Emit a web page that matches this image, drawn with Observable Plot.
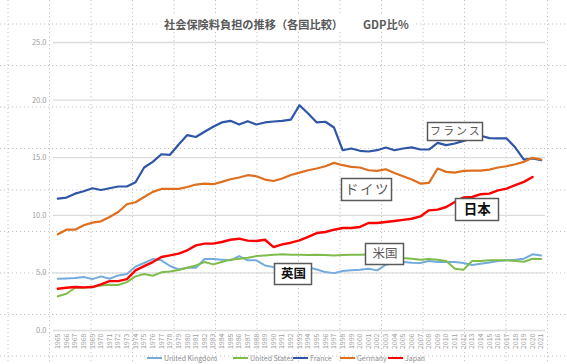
<!DOCTYPE html>
<html><head><meta charset="utf-8">
<script src="https://cdn.jsdelivr.net/npm/d3@7"></script>
<script src="https://cdn.jsdelivr.net/npm/@observablehq/plot@0.6"></script>
<style>
body{margin:0;width:567px;height:364px;overflow:hidden;background:#fff;font-family:"Noto Sans CJK JP",sans-serif;position:relative}
#bg{position:absolute;left:0;top:0}
#title{position:absolute;top:16px;left:160px;padding:0 4px;background:#fff;font-size:11.2px;font-weight:700;color:#595959;white-space:nowrap;line-height:16px}
#title .gdp{margin-left:20px}
#chart{position:absolute;left:0;top:34px}
#legend{position:absolute;top:352px;left:0;width:567px;height:12px}
.li{position:absolute;top:0;display:flex;align-items:center;height:12px;font-size:7px;color:#8c8c8c;white-space:nowrap}
.sw{display:inline-block;width:15px;height:2px;margin-right:2px}
</style>
</head><body>
<svg id="bg" width="567" height="364"></svg>
<div id="title">社会保険料負担の推移（各国比較）<span class="gdp">GDP比％</span></div>
<div id="chart"></div>
<div id="legend"></div>
<script>
// ---- data ----
const years = d3.range(1965, 2022);
const yTicks = [0, 5, 10, 15, 20, 25];
const seriesNames = ["United Kingdom", "United States", "France", "Germany", "Japan"];
const uk = [4.49,4.52,4.55,4.64,4.46,4.70,4.49,4.78,4.90,5.55,5.86,6.20,6.09,5.60,5.30,5.45,5.45,6.20,6.20,6.15,6.09,6.46,6.09,6.09,5.65,5.50,5.45,5.48,5.50,5.50,5.30,5.07,4.98,5.16,5.22,5.28,5.36,5.22,5.71,5.88,5.94,5.88,5.86,6.03,5.94,5.94,5.94,5.86,5.68,5.80,5.91,6.03,6.09,6.14,6.23,6.61,6.52];
const us = [2.98,3.19,3.71,3.71,3.77,3.91,3.98,3.95,4.20,4.70,4.90,4.75,5.05,5.13,5.25,5.45,5.65,5.94,5.74,5.94,6.15,6.23,6.32,6.46,6.52,6.58,6.61,6.58,6.58,6.56,6.58,6.56,6.52,6.55,6.57,6.58,6.60,6.60,6.55,6.38,6.29,6.23,6.14,6.20,6.14,6.03,5.36,5.28,6.03,6.03,6.09,6.09,6.09,6.03,5.97,6.23,6.20];
const france = [11.45,11.54,11.88,12.09,12.35,12.20,12.35,12.50,12.50,12.87,14.15,14.64,15.30,15.25,16.15,16.96,16.80,17.25,17.68,18.06,18.20,17.88,18.17,17.88,18.06,18.14,18.20,18.30,19.55,18.84,18.06,18.12,17.62,15.65,15.80,15.60,15.54,15.65,15.88,15.65,15.80,15.90,15.71,15.71,16.29,16.09,16.23,16.46,16.70,16.90,16.70,16.67,16.67,15.88,14.84,14.93,14.78];
const germany = [8.35,8.75,8.75,9.13,9.36,9.48,9.85,10.29,10.96,11.13,11.59,12.03,12.29,12.30,12.29,12.46,12.67,12.75,12.70,12.90,13.13,13.28,13.48,13.39,13.10,12.98,13.19,13.50,13.70,13.91,14.06,14.26,14.55,14.35,14.20,14.15,13.91,13.85,14.00,13.68,13.39,13.10,12.75,12.81,14.06,13.77,13.71,13.85,13.88,13.88,13.97,14.15,14.26,14.43,14.64,14.99,14.84];
const japan = [3.62,3.71,3.77,3.74,3.77,4.00,4.29,4.29,4.46,5.22,5.59,5.94,6.38,6.52,6.67,6.96,7.39,7.54,7.54,7.68,7.88,7.97,7.80,7.77,7.88,7.24,7.48,7.62,7.83,8.12,8.46,8.55,8.75,8.90,8.90,8.99,9.33,9.33,9.42,9.51,9.60,9.70,9.90,10.43,10.49,10.72,11.16,11.54,11.59,11.83,11.88,12.17,12.32,12.61,12.90,13.33,null];
const labelText = ["フランス", "ドイツ", "日本", "米国", "英国"];
const labelYear = [2011.0, 2000.8, 2013.6, 2002.9, 1992.3];
const labelValue = [17.27, 12.24, 10.5, 6.64, 4.9];

// ---- styles ----
const colors = {"United Kingdom":"#74aadc","United States":"#7fbc4c","France":"#2f56a6","Germany":"#dd6f1f","Japan":"#ff0000"};
const widths = {"United Kingdom":2,"United States":2,"France":2.2,"Germany":2.2,"Japan":2.4};
const labelStyle = {
  "フランス": {size: 11, weight: 400, color: "#595959", ls: 2, w: 55, h: 18},
  "ドイツ": {size: 13.5, weight: 400, color: "#595959", ls: 1.5, w: 50, h: 22},
  "日本": {size: 13.5, weight: 700, color: "#111", ls: 0, w: 43, h: 22},
  "米国": {size: 12.5, weight: 400, color: "#595959", ls: 0, w: 38, h: 21},
  "英国": {size: 12.5, weight: 700, color: "#111", ls: 0, w: 37, h: 21}
};

// background dotted sheet grid
const bg = d3.select("#bg");
const step = 41.5;
for (let x = 8; x < 567; x += step) bg.append("line").attr("x1", x).attr("x2", x).attr("y1", 0).attr("y2", 364);
for (let y = 24; y < 364; y += step) bg.append("line").attr("x1", 0).attr("x2", 567).attr("y1", y).attr("y2", y);
bg.selectAll("line").attr("stroke", "#c4c4c4").attr("stroke-width", 1).attr("stroke-dasharray", "1.2 2.8");

const allValues = {"United Kingdom": uk, "United States": us, "France": france, "Germany": germany, "Japan": japan};
const lineMarks = seriesNames.map(name => {
  const rows = years.map((yr, i) => ({year: yr, value: allValues[name][i]})).filter(d => d.value != null);
  return Plot.line(rows, {x: "year", y: "value", stroke: colors[name], strokeWidth: widths[name], strokeLinejoin: "round", strokeLinecap: "round"});
});
const labelMarks = labelText.map((t, i) => {
  const s = labelStyle[t];
  return Plot.text([{t, year: labelYear[i], value: labelValue[i]}], {x: "year", y: "value", text: "t", fontSize: s.size, fontWeight: s.weight, fill: s.color, fontFamily: "'Noto Sans CJK JP', sans-serif"});
});

const chart = Plot.plot({
  width: 567, height: 319,
  marginTop: 8, marginBottom: 23, marginLeft: 53, marginRight: 22,
  style: {background: "transparent", fontFamily: "'Noto Sans CJK JP', sans-serif", overflow: "visible"},
  x: {type: "linear", domain: [years[0] - 0.5, years[years.length - 1] + 0.5]},
  y: {domain: [0, 25]},
  marks: [
    Plot.gridY(yTicks, {stroke: "#dcdcdc", strokeOpacity: 1, strokeWidth: 1.3}),
    Plot.axisY(yTicks, {tickSize: 0, tickPadding: 7, tickFormat: d => d.toFixed(1), fontSize: 7.5, fill: "#9c9c9c", label: null}),
    Plot.axisX(years, {tickSize: 0, tickRotate: -90, tickPadding: 3, tickFormat: d => String(d), fontSize: 7, fill: "#9c9c9c", label: null}),
    ...lineMarks,
    ...labelMarks
  ]
});
document.getElementById("chart").appendChild(chart);

// boxes behind annotation labels, centred on each label's scaled position
const sx = chart.scale("x"), sy = chart.scale("y");
const svg = d3.select(chart);
const textGroups = svg.selectAll('g[aria-label="text"]').nodes();
const boxLayer = svg.insert("g", () => textGroups[0]);
labelText.forEach((t, i) => {
  const s = labelStyle[t];
  const cx = sx.apply(labelYear[i]), cy = sy.apply(labelValue[i]);
  boxLayer.append("rect")
    .attr("x", Math.round(cx - s.w / 2) + 0.5).attr("y", Math.round(cy - s.h / 2) + 0.5)
    .attr("width", s.w).attr("height", s.h)
    .attr("fill", "#fff").attr("stroke", "#5a5a5a").attr("stroke-width", 1.5);
});
svg.selectAll('g[aria-label="text"] text').each(function() {
  const s = labelStyle[this.textContent];
  if (s && s.ls) d3.select(this).attr("letter-spacing", s.ls).attr("dx", s.ls / 2);
});

// legend
const legendX = [147, 233, 293, 340, 388];
const lg = d3.select("#legend");
seriesNames.forEach((name, i) => {
  const item = lg.append("div").attr("class", "li").style("left", legendX[i] + "px");
  item.append("span").attr("class", "sw").style("background", colors[name]);
  item.append("span").text(name);
});
</script>
</body></html>
